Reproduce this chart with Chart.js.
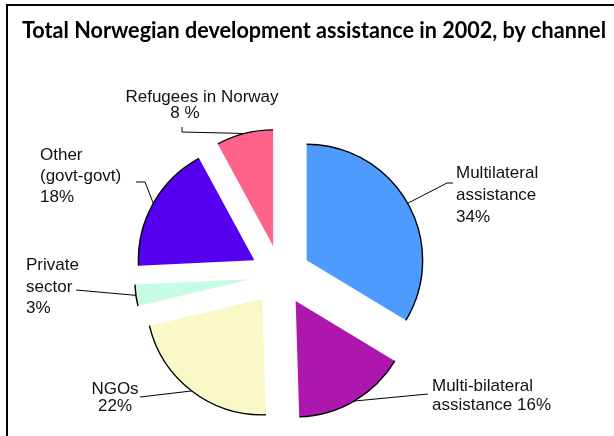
<!DOCTYPE html>
<html>
<head>
<meta charset="utf-8">
<script src="https://cdn.jsdelivr.net/npm/chart.js@4/dist/chart.umd.min.js"></script>
<style>
  html, body { margin: 0; padding: 0; background: #fff; }
  #wrap { position: relative; width: 614px; height: 436px; }
</style>
</head>
<body>
<div id="wrap"><canvas id="channel-pie"></canvas></div>
<script>
// Norwegian development assistance 2002, share per channel (percent)
const channel_names = ["Multilateral assistance", "Multi-bilateral assistance", "NGOs",
                       "Private sector", "Other (govt-govt)", "Refugees in Norway"];
const channel_shares = [34, 16, 22, 3, 18, 8];
const channel_colors = ["#4d9bff", "#ad17ae", "#f9f9c7", "#c6fce3", "#5500f0", "#ff638a"];

// text written next to each slice, one entry per line
const channel_texts = [
  ["Multilateral", "assistance", "34%"],
  ["Multi-bilateral", "assistance 16%"],
  ["NGOs", "22%"],
  ["Private", "sector", "3%"],
  ["Other", "(govt-govt)", "18%"],
  ["Refugees in Norway", "8 %"]
];

const chart_title = "Total Norwegian development assistance in 2002, by channel";

// where the texts go and the bend points of the line to the slice
const text_layout = [
  { x: 456, y: [173, 195, 217], align: "left", leader: [[453, 183], [447, 183]] },
  { x: 432, y: [386, 405], align: "left", leader: [[428, 394]] },
  { x: 115, y: [389, 406], align: "center", leader: [[140, 397]] },
  { x: 26, y: [265, 287, 308], align: "left", leader: [[76, 290]] },
  { x: 40, y: [155, 176, 197], align: "left", leader: [[136, 182], [145, 182]] },
  { x: [202, 185], y: [97, 113], align: "center", leader: [[182, 127], [182, 132]] }
];

const explode_px = 30;
const pie_radius = 116;

// push every slice out from the centre along its middle angle
const explode_slices = {
  id: "explode_slices",
  afterDatasetsUpdate(chart) {
    chart.getDatasetMeta(0).data.forEach(arc => {
      const mid = (arc.startAngle + arc.endAngle) / 2;
      arc.x += Math.cos(mid) * explode_px;
      arc.y += Math.sin(mid) * explode_px;
    });
  }
};

// black rim on the curved edge only, plus texts and leader lines
const slice_decor = {
  id: "slice_decor",
  afterDatasetsDraw(chart) {
    const ctx = chart.ctx;
    const arcs = chart.getDatasetMeta(0).data;
    ctx.save();
    ctx.strokeStyle = "#000";
    ctx.lineWidth = 1.4;
    arcs.forEach(arc => {
      ctx.beginPath();
      ctx.arc(arc.x, arc.y, arc.outerRadius, arc.startAngle, arc.endAngle);
      ctx.stroke();
    });

    ctx.lineWidth = 1;
    ctx.font = '17px "Liberation Sans", Arial, sans-serif';
    ctx.fillStyle = "#111";
    ctx.textBaseline = "middle";
    arcs.forEach((arc, i) => {
      const lay = text_layout[i];
      const mid = (arc.startAngle + arc.endAngle) / 2;
      const ex = arc.x + Math.cos(mid) * arc.outerRadius;
      const ey = arc.y + Math.sin(mid) * arc.outerRadius;
      ctx.beginPath();
      lay.leader.forEach((p, k) => k === 0 ? ctx.moveTo(p[0], p[1]) : ctx.lineTo(p[0], p[1]));
      ctx.lineTo(ex, ey);
      ctx.stroke();

      ctx.textAlign = lay.align;
      channel_texts[i].forEach((line, k) => {
        const tx = Array.isArray(lay.x) ? lay.x[k] : lay.x;
        ctx.fillText(line, tx, lay.y[k]);
      });
    });
    ctx.restore();
  },
  afterDraw(chart) {
    const ctx = chart.ctx;
    ctx.save();
    // frame along the top and left side
    ctx.fillStyle = "#000";
    ctx.fillRect(6, 4, 608, 2);
    ctx.fillRect(6, 4, 2, 432);
    ctx.font = 'bold 22px Lato, "Open Sans", sans-serif';
    ctx.textAlign = "left";
    ctx.textBaseline = "alphabetic";
    ctx.fillText(chart_title, 22, 38, 584);
    ctx.restore();
  }
};

new Chart(document.getElementById("channel-pie"), {
  type: "pie",
  data: {
    labels: channel_names,
    datasets: [{
      data: channel_shares,
      backgroundColor: channel_colors,
      borderWidth: 0,
      radius: pie_radius
    }]
  },
  options: {
    responsive: true,
    maintainAspectRatio: false,
    animation: false,
    layout: {
      padding: { left: 10, right: 63, top: 130, bottom: 16 }
    },
    plugins: {
      legend: { display: false },
      tooltip: { enabled: false }
    }
  },
  plugins: [explode_slices, slice_decor]
});
</script>
</body>
</html>
